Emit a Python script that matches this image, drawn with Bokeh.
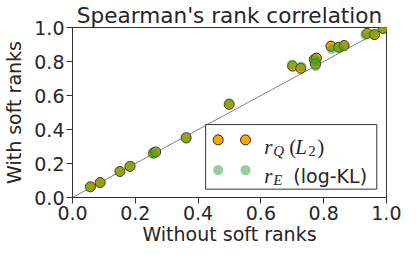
from bokeh.plotting import figure
from bokeh.models import FixedTicker, PrintfTickFormatter, Label, Range1d
from bokeh.embed import file_html
from bokeh.resources import INLINE

# ---- data ----
xq = [0.057, 0.088, 0.151, 0.183, 0.258, 0.265, 0.362, 0.499, 0.701, 0.727,
      0.770, 0.777, 0.774, 0.823, 0.848, 0.865, 0.938, 0.962, 0.990]
yq = [0.063, 0.088, 0.153, 0.183, 0.262, 0.268, 0.352, 0.548, 0.773, 0.760,
      0.812, 0.820, 0.785, 0.890, 0.884, 0.894, 0.965, 0.958, 0.995]
xe = [0.055, 0.088, 0.151, 0.185, 0.256, 0.263, 0.362, 0.499, 0.699, 0.729,
      0.771, 0.775, 0.774, 0.826, 0.847, 0.863, 0.933, 0.958, 0.985]
ye = [0.060, 0.086, 0.155, 0.186, 0.258, 0.265, 0.345, 0.555, 0.783, 0.770,
      0.815, 0.802, 0.772, 0.872, 0.882, 0.888, 0.956, 0.962, 0.990]
ticks = [0.0, 0.2, 0.4, 0.6, 0.8, 1.0]
diag = [0.0, 1.0]

title_text = "Spearman's rank correlation"
xlabel = "Without soft ranks"
ylabel = "With soft ranks"

ORANGE = "#FFA500"
GREEN = "#2ca02c"
AXC = "#333333"
TXT = "#262626"
FONT = "DejaVu Sans"
MATH = "Liberation Serif"

p = figure(width=401, height=247, output_backend="svg", toolbar_location=None,
           x_range=Range1d(0, 1), y_range=Range1d(0, 1),
           min_border_left=0, min_border_right=15, min_border_top=0, min_border_bottom=0,
           title=title_text)
p.title.text_font = FONT
p.title.text_font_size = "21.6px"
p.title.text_font_style = "normal"
p.title.text_color = TXT
p.title.align = "center"
p.title.standoff = 0
p.title.offset = 0

p.grid.visible = False
p.outline_line_color = AXC
p.outline_line_width = 1
p.background_fill_color = "white"

for ax in (p.xaxis[0], p.yaxis[0]):
    ax.ticker = FixedTicker(ticks=ticks)
    ax.formatter = PrintfTickFormatter(format="%.1f")
    ax.axis_line_color = AXC
    ax.major_tick_line_color = AXC
    ax.major_tick_out = 6
    ax.major_tick_in = 0
    ax.minor_tick_line_color = None
    ax.major_label_text_font = FONT
    ax.major_label_text_color = TXT
    ax.major_label_text_font_size = "19px"
    ax.major_label_standoff = 2
    ax.axis_label_text_font = FONT
    ax.axis_label_text_font_size = "19px"
    ax.axis_label_text_font_style = "normal"
    ax.axis_label_text_color = TXT
p.xaxis.axis_label = xlabel
p.yaxis.axis_label = ylabel
p.xaxis.axis_label_standoff = 0
p.yaxis.axis_label_standoff = 6

# diagonal
p.line(diag, diag, line_color="#808080", line_width=1)

# points
p.scatter(xq, yq, size=10, fill_color=ORANGE, line_color="black", line_width=0.8)
p.scatter(xe, ye, size=10, fill_color=GREEN, fill_alpha=0.5, line_color=None)

# legend (drawn manually: two markers per entry, as in the reference)
leg_l, leg_r, leg_b, leg_t = 0.424, 0.969, 0.049, 0.429
p.quad(left=[leg_l], right=[leg_r], bottom=[leg_b], top=[leg_t],
       fill_color="white", line_color=AXC, line_width=1)
mk_x = [0.464, 0.551]
row1, row2 = 0.339, 0.161
p.scatter(mk_x, [row1, row1], size=10, fill_color=ORANGE, line_color="black", line_width=0.8)
p.scatter(mk_x, [row2, row2], size=10, fill_color=GREEN, fill_alpha=0.5, line_color=None)

tx = 0.611
b1, b2 = 0.300, 0.126
def lab(text, y, dx, dy, font, size, style):
    p.add_layout(Label(x=tx, y=y, x_offset=dx, y_offset=dy, text=text, text_font=font,
                       text_font_size=size, text_font_style=style, text_color=TXT,
                       text_baseline="alphabetic"))

lab("r", b1, 0, 0, MATH, "21px", "italic")
lab("Q", b1, 9, -4, MATH, "15px", "italic")
lab("(", b1, 25, 0, MATH, "21px", "normal")
lab("L", b1, 31, 0, MATH, "21px", "italic")
lab("2", b1, 44, -4, MATH, "15px", "normal")
lab(")", b1, 53, 0, MATH, "21px", "normal")

lab("r", b2, 0, 0, MATH, "21px", "italic")
lab("E", b2, 9, -4, MATH, "15px", "italic")
lab("(log-KL)", b2, 29, 0, FONT, "19px", "normal")

open("out.html", "w").write(file_html(p, INLINE))
